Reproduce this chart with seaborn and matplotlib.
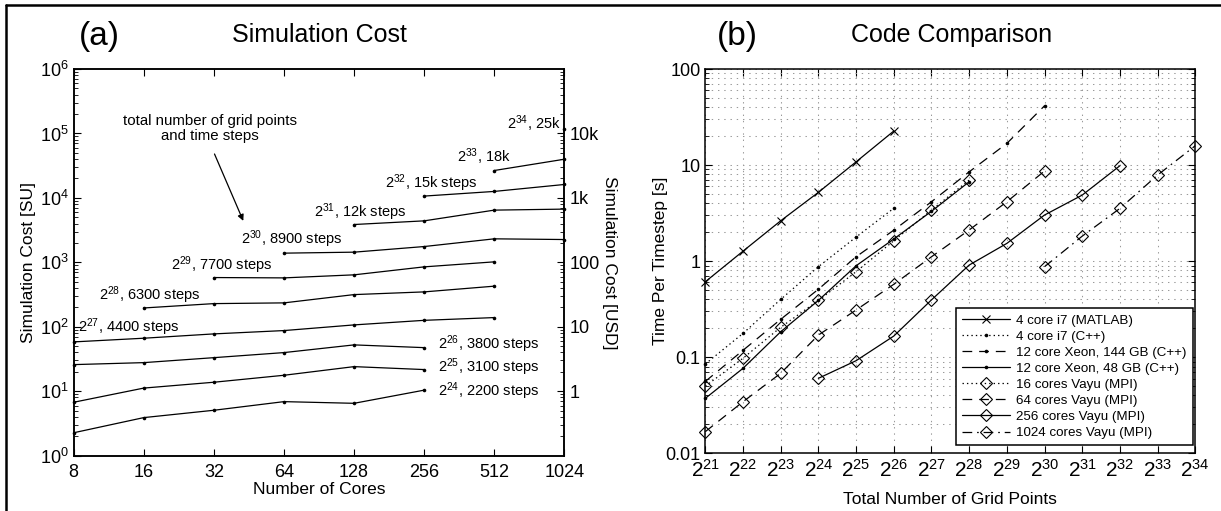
import numpy as np
import pandas as pd
import matplotlib
matplotlib.use("Agg")
import matplotlib.pyplot as plt
import matplotlib.ticker as mticker
from matplotlib.lines import Line2D
import seaborn as sns

# ---------------- data: (a) simulation cost ----------------
cores = [8, 16, 32, 64, 128, 256, 512, 1024]
nan = np.nan
cost_g24 = [2.27, 3.9, 5.07, 6.9, 6.5, 10.4, nan, nan]
cost_g25 = [6.75, 11.2, 13.8, 17.7, 24.1, 21.7, nan, nan]
cost_g26 = [25.9, 27.8, 33.2, 39.8, 52.4, 47.5, nan, nan]
cost_g27 = [58.3, 66.5, 77.6, 87.4, 107, 126, 139, nan]
cost_g28 = [nan, 196, 229, 235, 316, 348, 427, nan]
cost_g29 = [nan, nan, 581, 574, 640, 851, 1018, nan]
cost_g30 = [nan, nan, nan, 1389, 1439, 1759, 2317, 2260]
cost_g31 = [nan, nan, nan, nan, 3864, 4404, 6460, 6700]
cost_g32 = [nan, nan, nan, nan, nan, 10670, 12600, 16150]
cost_g33 = [nan, nan, nan, nan, nan, nan, 26600, 39800]
cost_g34 = [nan, nan, nan, nan, nan, nan, nan, 117000]
cost_series = [cost_g24, cost_g25, cost_g26, cost_g27, cost_g28, cost_g29,
               cost_g30, cost_g31, cost_g32, cost_g33, cost_g34]
cost_labels = ["$2^{24}$, 2200 steps", "$2^{25}$, 3100 steps", "$2^{26}$, 3800 steps",
               "$2^{27}$, 4400 steps", "$2^{28}$, 6300 steps", "$2^{29}$, 7700 steps",
               "$2^{30}$, 8900 steps", "$2^{31}$, 12k steps", "$2^{32}$, 15k steps",
               "$2^{33}$, 18k", "$2^{34}$, 25k"]
# label anchor (cores, SU) for each curve label
cost_label_pos = [(293, 9.9), (293, 23.2), (293, 53.7), (8.37, 98.6), (10.3, 313),
                  (21.0, 914), (41.8, 2290), (85.8, 6015), (174.5, 16980),
                  (355, 43450), (582, 141300)]
su_per_usd = 10
usd_ticks = [1, 10, 100, 1000, 10000]
usd_ticklabels = ["1", "10", "100", "1k", "10k"]

# ---------------- data: (b) code comparison ----------------
exp_matlab = list(range(21, 27));  t_matlab = [0.61, 1.27, 2.63, 5.2, 10.8, 22.6]
exp_i7cpp = list(range(21, 27));   t_i7cpp = [0.085, 0.177, 0.40, 0.875, 1.78, 3.55]
exp_x144 = list(range(21, 31));    t_x144 = [0.056, 0.118, 0.248, 0.51, 1.11, 2.1, 4.15, 8.5, 16.8, 41.4]
exp_x48 = list(range(21, 29));     t_x48 = [0.0373, 0.0766, 0.184, 0.39, 0.895, 1.7, 3.3, 6.7]
exp_v16 = list(range(21, 29));     t_v16 = [0.050, 0.0975, 0.205, 0.39, 0.776, 1.63, 3.4, 6.98]
exp_v64 = list(range(21, 31));     t_v64 = [0.0168, 0.0344, 0.068, 0.17, 0.31, 0.574, 1.11, 2.11, 4.15, 8.67]
exp_v256 = list(range(24, 33));    t_v256 = [0.0603, 0.092, 0.166, 0.395, 0.91, 1.53, 3.02, 4.87, 9.84]
exp_v1024 = list(range(30, 35));   t_v1024 = [0.875, 1.82, 3.54, 7.87, 15.9]
code_names = ["4 core i7 (MATLAB)", "4 core i7 (C++)", "12 core Xeon, 144 GB (C++)",
              "12 core Xeon, 48 GB (C++)", "16 cores Vayu (MPI)", "64 cores Vayu (MPI)",
              "256 cores Vayu (MPI)", "1024 cores Vayu (MPI)"]
grid_exponents = list(range(21, 35))
time_ticks = [0.01, 0.1, 1, 10, 100]
time_ticklabels = ["0.01", "0.1", "1", "10", "100"]

# ---------------- style ----------------
sns.set_theme(style="ticks")
plt.rcParams["font.family"] = ["Liberation Sans", "DejaVu Sans"]
plt.rcParams["mathtext.fontset"] = "custom"
plt.rcParams["mathtext.rm"] = "Liberation Sans"
plt.rcParams["mathtext.it"] = "Liberation Sans:italic"
plt.rcParams["mathtext.bf"] = "Liberation Sans:bold"
plt.rcParams["lines.scale_dashes"] = False
plt.rcParams["axes.edgecolor"] = "black"
plt.rcParams["axes.linewidth"] = 1.1
plt.rcParams["xtick.color"] = "black"
plt.rcParams["ytick.color"] = "black"
plt.rcParams["text.color"] = "black"
plt.rcParams["axes.labelcolor"] = "black"

W, H = 1221, 511
fig = plt.figure(figsize=(W / 100, H / 100), dpi=100)
fig.patch.set_facecolor("white")

def fx(px):
    return px / W

def fy(py):
    return 1 - py / H

ax_a = fig.add_axes([fx(73.7), fy(455.7), fx(564.3 - 73.7), (455.7 - 69) / H])
ax_b = fig.add_axes([fx(705.3), fy(453.3), fx(1195.3 - 705.3), (453.3 - 69) / H])

TICK_FS = 13
LABEL_FS = 12.5

# ---------------- panel (a) ----------------
rows = []
for i, s in enumerate(cost_series):
    for c, v in zip(cores, s):
        if not np.isnan(v):
            rows.append({"cores": c, "cost": v, "grid": i})
df_cost = pd.DataFrame(rows)
for g, sub in df_cost.groupby("grid"):
    sns.lineplot(data=sub, x="cores", y="cost", ax=ax_a, color="black", lw=0.9,
                 marker="o", markersize=2.6, markeredgewidth=0, sort=False,
                 estimator=None, legend=False, clip_on=False)

ax_a.set_xscale("log", base=2)
ax_a.set_yscale("log")
ax_a.set_xlim(8, 1024)
ax_a.set_ylim(1, 1e6)
ax_a.set_xticks(cores)
ax_a.xaxis.set_major_formatter(mticker.FixedFormatter([str(c) for c in cores]))
ax_a.xaxis.set_minor_locator(mticker.NullLocator())
ax_a.yaxis.set_major_locator(mticker.LogLocator(base=10, numticks=10))
ax_a.yaxis.set_minor_locator(mticker.LogLocator(base=10, subs=np.arange(2, 10), numticks=20))
ax_a.yaxis.set_minor_formatter(mticker.NullFormatter())
ax_a.tick_params(which="both", direction="in", top=True, right=False, labelsize=TICK_FS)
ax_a.tick_params(which="major", length=5, width=0.8)
ax_a.tick_params(which="minor", length=3, width=0.6)
ax_a.tick_params(axis="x", pad=6)
ax_a.set_xlabel("Number of Cores", fontsize=LABEL_FS, labelpad=1)
ax_a.set_ylabel("Simulation Cost [SU]", fontsize=LABEL_FS, labelpad=3)

ax_u = ax_a.twinx()
ax_u.set_yscale("log")
ax_u.set_ylim(1 / su_per_usd, 1e6 / su_per_usd)
ax_u.set_yticks(usd_ticks, labels=usd_ticklabels)
ax_u.yaxis.set_minor_locator(mticker.LogLocator(base=10, subs=np.arange(2, 10), numticks=20))
ax_u.yaxis.set_minor_formatter(mticker.NullFormatter())
ax_u.tick_params(which="both", direction="in", labelsize=TICK_FS)
ax_u.tick_params(which="major", length=5, width=0.8)
ax_u.tick_params(which="minor", length=3, width=0.6)
ax_u.set_ylabel("Simulation Cost [USD]", fontsize=LABEL_FS, rotation=270, labelpad=13)

for lab, (xl, yl) in zip(cost_labels, cost_label_pos):
    ax_a.text(xl, yl, lab, fontsize=10.5, ha="left", va="center")
ax_a.text(30.8, 1.18e5, "total number of grid points\nand time steps", fontsize=10.8,
          ha="center", va="center", linespacing=1.1)
ax_a.annotate("", xy=(42.8, 4.4e3), xytext=(32.2, 4.8e4),
              arrowprops=dict(arrowstyle="-|>", color="black", lw=0.9,
                              mutation_scale=9, shrinkA=0, shrinkB=0))

# ---------------- panel (b) ----------------
series_b = [
    (exp_matlab, t_matlab, dict(marker="x", markersize=6, ls="-")),
    (exp_i7cpp, t_i7cpp, dict(marker="o", markersize=2.6, ls=(0, (1.0, 2.2)))),
    (exp_x144, t_x144, dict(marker="o", markersize=2.6, ls=(0, (7, 5)))),
    (exp_x48, t_x48, dict(marker="o", markersize=2.6, ls="-")),
    (exp_v16, t_v16, dict(marker="D", markersize=6.5, ls=(0, (1.0, 2.2)))),
    (exp_v64, t_v64, dict(marker="D", markersize=6.5, ls=(0, (7, 5)))),
    (exp_v256, t_v256, dict(marker="D", markersize=6.5, ls="-")),
    (exp_v1024, t_v1024, dict(marker="D", markersize=6.5, ls=(0, (7, 3.5, 1.2, 3.5)))),
]
handles = []
for name, (ex, tv, st) in zip(code_names, series_b):
    d = pd.DataFrame({"points": [2.0 ** e for e in ex], "time": tv})
    filled = st["marker"] == "o"
    sns.lineplot(data=d, x="points", y="time", ax=ax_b, color="black", lw=0.9,
                 linestyle=st["ls"], marker=st["marker"], markersize=st["markersize"],
                 markerfacecolor="black" if filled else "none",
                 markeredgecolor="black", markeredgewidth=0 if filled else 0.8,
                 sort=False, estimator=None, legend=False, clip_on=False)
    handles.append(Line2D([0], [0], color="black", lw=0.9, linestyle=st["ls"],
                          marker=st["marker"], markersize=st["markersize"],
                          markerfacecolor="black" if filled else "none",
                          markeredgecolor="black",
                          markeredgewidth=0 if filled else 0.8, label=name))

ax_b.set_xscale("log", base=2)
ax_b.set_yscale("log")
ax_b.set_xlim(2.0 ** 21, 2.0 ** 34)
ax_b.set_ylim(0.01, 100)
ax_b.set_xticks([2.0 ** e for e in grid_exponents])
ax_b.xaxis.set_major_formatter(mticker.FixedFormatter([f"$2^{{{e}}}$" for e in grid_exponents]))
ax_b.xaxis.set_minor_locator(mticker.NullLocator())
ax_b.set_yticks(time_ticks, labels=time_ticklabels)
ax_b.yaxis.set_minor_locator(mticker.LogLocator(base=10, subs=np.arange(2, 10), numticks=20))
ax_b.yaxis.set_minor_formatter(mticker.NullFormatter())
ax_b.tick_params(which="both", direction="in", top=True, right=True, labelsize=TICK_FS)
ax_b.tick_params(axis="x", labelsize=15, pad=4)
ax_b.tick_params(which="major", length=5, width=0.8)
ax_b.tick_params(which="minor", length=3, width=0.6)
ax_b.grid(True, which="major", axis="both", color="#9a9a9a", ls=(0, (1, 3.5)), lw=0.75)
ax_b.grid(True, which="minor", axis="y", color="#9a9a9a", ls=(0, (1, 3.5)), lw=0.75)
ax_b.set_axisbelow(True)
ax_b.set_xlabel("Total Number of Grid Points", fontsize=LABEL_FS, labelpad=8)
ax_b.set_ylabel("Time Per Timestep [s]", fontsize=LABEL_FS, labelpad=-2)

leg = ax_b.legend(handles=handles, loc="lower right", bbox_to_anchor=(0.995, 0.021),
                  borderaxespad=0, fontsize=9.6, frameon=True, fancybox=False,
                  handlelength=3.6, handletextpad=0.45, labelspacing=0.28,
                  borderpad=0.45, numpoints=1, framealpha=1)
leg.get_frame().set_edgecolor("black")
leg.get_frame().set_linewidth(1.1)

for ax in (ax_a, ax_b):
    for sp in ax.spines.values():
        sp.set_visible(True)
        sp.set_color("black")
for sp in ax_u.spines.values():
    sp.set_color("black")

# ---------------- titles and frame ----------------
fig.text(fx(99), fy(36), "(a)", fontsize=24, ha="center", va="center")
fig.text(fx(319), fy(35), "Simulation Cost", fontsize=18, ha="center", va="center")
fig.text(fx(737), fy(36), "(b)", fontsize=24, ha="center", va="center")
fig.text(fx(952), fy(35), "Code Comparison", fontsize=18, ha="center", va="center")

fig.add_artist(Line2D([fx(5.5), 1], [fy(5.5), fy(5.5)], color="black", lw=1.8))
fig.add_artist(Line2D([fx(5.5), fx(5.5)], [0, fy(5.5)], color="black", lw=1.8))

fig.savefig("out.png", dpi=100, facecolor="white")
